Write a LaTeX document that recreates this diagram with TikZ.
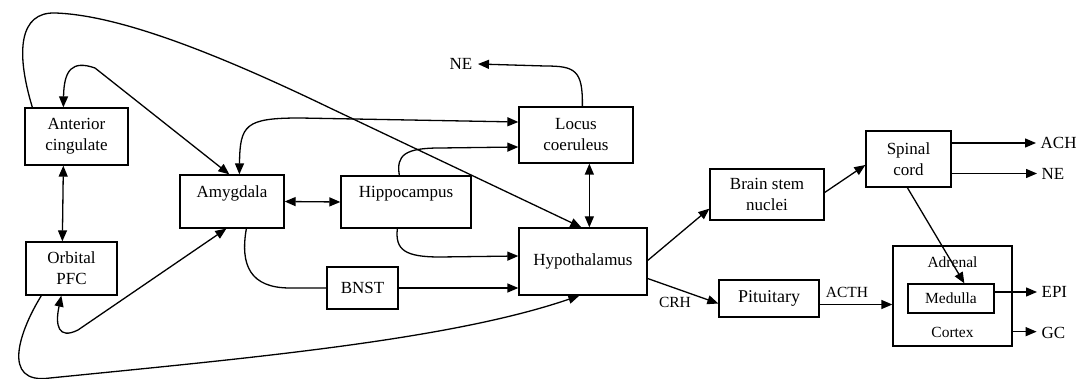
\documentclass[tikz,border=0pt]{standalone}
\usepackage{fontspec}
\setmainfont{Liberation Serif}
\usetikzlibrary{arrows.meta,calc}
\begin{document}
\begin{tikzpicture}[x=1pt,y=-1pt, line width=1.3pt,
  box/.style={draw, rectangle, inner sep=0pt, align=center, font=\fontsize{17}{21}\selectfont},
  lbl/.style={inner sep=0pt, font=\fontsize{17}{21}\selectfont},
  slbl/.style={inner sep=0pt, font=\fontsize{15.5}{18}\selectfont},
  >={Triangle[length=11pt,width=9pt]}]
\useasboundingbox (0,0) rectangle (1088,379);

% boxes
\node[box, minimum width=103, minimum height=57] (ac) at (76.5,136.5) {Anterior\\cingulate};
\node[box, minimum width=91, minimum height=53] (opfc) at (71.5,268.5) {Orbital\\PFC};
\node[box, minimum width=104, minimum height=53] (amy) at (232,201.5) {};
\node[lbl] (amyt) at ($(amy.center)+(0,-8)$) {Amygdala};
\node[box, minimum width=130, minimum height=52] (hip) at (406,202) {};
\node[lbl] (hipt) at ($(hip.center)+(0,-8)$) {Hippocampus};
\node[box, minimum width=71, minimum height=42] (bnst) at (362.5,288) {BNST};
\node[box, minimum width=114, minimum height=56] (lc) at (576,135) {Locus\\coeruleus};
\node[box, minimum width=128, minimum height=67] (hyp) at (583,261.5) {Hypothalamus};
\node[box, minimum width=114, minimum height=51] (bsn) at (767,194.5) {Brain stem\\nuclei};
\node[box, minimum width=85, minimum height=56] (sc) at (908.5,159) {Spinal\\cord};
\node[box, minimum width=100, minimum height=37, font=\fontsize{18}{21}\selectfont] (pit) at (769,298.5) {Pituitary};
\node[box, minimum width=119, minimum height=100] (adr) at (952.5,296) {};
\node[box, minimum width=86, minimum height=29, font=\fontsize{15.5}{18}\selectfont] (med) at (951,298.5) {Medulla};
\node[slbl] (adrt) at (952.5,262) {Adrenal};
\node[slbl] (cort) at (952.5,332) {Cortex};

% free labels
\node[lbl] (ne1) at (461,64) {NE};
\node[lbl, anchor=west] (ach) at (1040,143) {ACH};
\node[lbl, anchor=west] (ne2) at (1041,173.5) {NE};
\node[lbl, anchor=west] (epi) at (1041,292) {EPI};
\node[lbl, anchor=west] (gc) at (1041,333) {GC};
\node[slbl] (crh) at (675,302) {CRH};
\node[slbl] (acth) at (847,292) {ACTH};

% connectors, left part
\draw[->] ($(ac.north west)+(8,0)$) .. controls (15,50) and (20,12) .. (55,13)
   .. controls (120,15) and (220,55) .. (330,108) -- ($(hyp.north west)+(63,0)$);
\draw[<->] ($(ac.north west)+(39,0)$) .. controls (64,70) and (72,60) .. (95,68)
   -- ($(amy.north west)+(50,0)$);
\draw[<->] ($(ac.south west)+(39,0)$) -- ($(opfc.north west)+(37,0)$);
\draw[<->] ($(opfc.south west)+(36,0)$) .. controls (55,325) and (58,340) .. (78,330)
   -- ($(amy.south west)+(47,0)$);
\draw[->] ($(opfc.south west)+(16,0)$) .. controls (20,330) and (0,385) .. (50,378)
   .. controls (250,358) and (450,340) .. ($(hyp.south west)+(61,0)$);
\draw[<->] ($(amy.north west)+(60,0)$) .. controls (240,125) and (245,118) .. (300,118)
   -- ($(lc.west)+(0,-13)$);
\draw[<->] (amy.east) -- (hip.west);
\draw ($(amy.south west)+(67,0)$) .. controls (240,265) and (250,288) .. (290,288) -- (bnst.west);
\draw[->] ($(hip.north west)+(59,0)$) .. controls (396,155) and (405,148) .. (440,148)
   -- ($(lc.west)+(0,12)$);
\draw[->] ($(hip.south west)+(57,0)$) .. controls (395,250) and (405,257) .. (440,257)
   -- ($(hyp.west)+(0,-5.5)$);
\draw[->] (bnst.east) -- (bnst.east -| hyp.west);
\draw[<->] ($(lc.south west)+(71,0)$) -- ($(hyp.north west)+(71,0)$);
\draw[->] ($(lc.north west)+(64,0)$) .. controls (583,70) and (575,66) .. (545,66) -- ($(ne1.east)+(5,0)$);

% right part
\draw[->] ($(hyp.east)+(0,-1)$) -- ($(bsn.south west)+(0,-12)$);
\draw[->] ($(bsn.east)+(0,-2)$) -- ($(sc.west)+(0,6)$);
\draw[->] ($(hyp.east)+(0,17)$) -- ($(pit.west)+(0,5)$);
\draw[->] ($(pit.east)+(0,6)$) -- ($(adr.west)+(0,8.5)$);
\draw[->] ($(sc.south west)+(42,0)$) -- ($(med.north west)+(57,0)$);
\draw[->] (sc.east |- ach.west) -- ($(ach.west)+(-4,0)$);
\draw[->] (sc.east |- ne2.west) -- ($(ne2.west)+(-4,0)$);
\draw[->] (med.east |- epi.west) -- ($(epi.west)+(-4,0)$);
\draw[->] ($(adr.south east)+(0,-15)$) -- ($(adr.south east)+(24,-15)$) coordinate (gcend);
\end{tikzpicture}
\end{document}
